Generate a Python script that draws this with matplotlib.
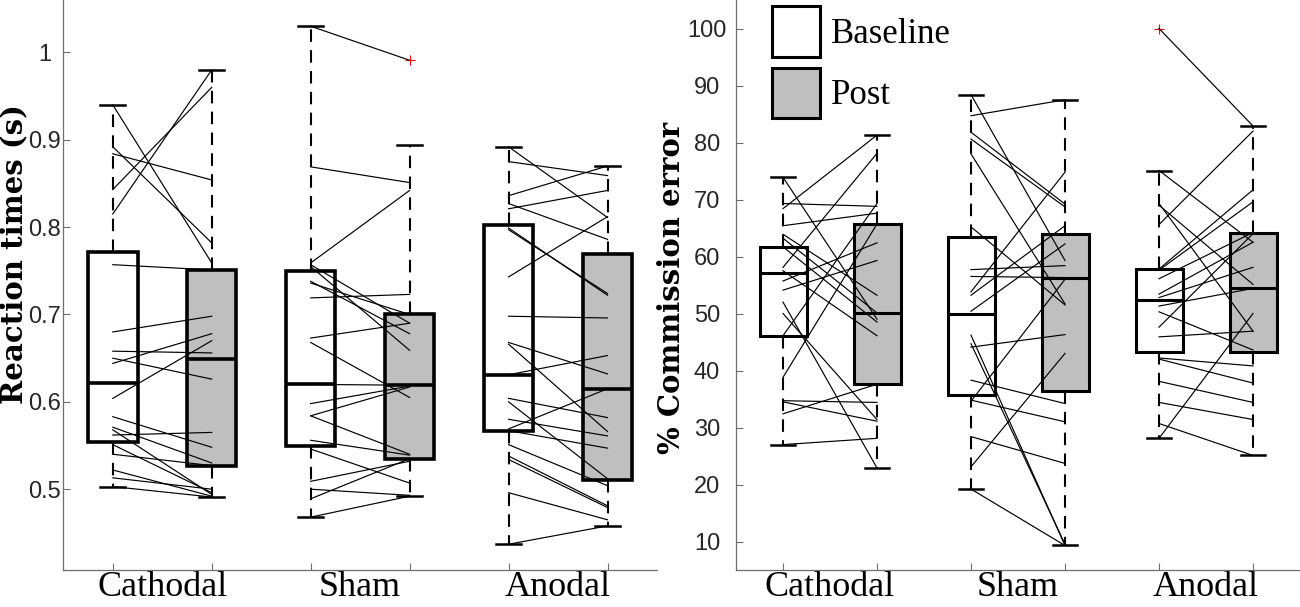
import numpy as np
import matplotlib
matplotlib.use('Agg')
import matplotlib.pyplot as plt
from matplotlib.patches import Patch

groups = ['Cathodal', 'Sham', 'Anodal']

# reaction times (s), one value per subject, baseline / post
rt_cath_base = [0.940, 0.892, 0.884, 0.843, 0.815, 0.757, 0.680, 0.658, 0.650, 0.644,
                0.604, 0.583, 0.571, 0.568, 0.562, 0.551, 0.540, 0.522, 0.513, 0.503]
rt_cath_post = [0.759, 0.782, 0.854, 0.960, 0.980, 0.751, 0.698, 0.656, 0.626, 0.678,
                0.670, 0.548, 0.530, 0.494, 0.565, 0.496, 0.527, 0.492, 0.500, 0.491]
rt_sham_base = [1.030, 0.869, 0.759, 0.757, 0.755, 0.738, 0.736, 0.719, 0.673, 0.668,
                0.620, 0.598, 0.584, 0.584, 0.556, 0.546, 0.509, 0.500, 0.489, 0.468]
rt_sham_post = [0.991, 0.851, 0.842, 0.690, 0.659, 0.678, 0.700, 0.723, 0.690, 0.605,
                0.619, 0.618, 0.617, 0.540, 0.539, 0.507, 0.532, 0.493, 0.535, 0.492]
rt_anod_base = [0.892, 0.875, 0.836, 0.827, 0.821, 0.799, 0.797, 0.743, 0.698, 0.668, 0.666,
                0.631, 0.604, 0.600, 0.580, 0.569, 0.567, 0.551, 0.538, 0.534, 0.496, 0.437]
rt_anod_post = [0.811, 0.859, 0.870, 0.786, 0.842, 0.722, 0.724, 0.812, 0.696, 0.632, 0.566,
                0.653, 0.582, 0.512, 0.561, 0.615, 0.547, 0.504, 0.481, 0.479, 0.465, 0.458]

# box summaries, order: cath base, cath post, sham base, sham post, anod base, anod post
rt_whislo = [0.503, 0.491, 0.468, 0.492, 0.437, 0.458]
rt_q1 = [0.554, 0.526, 0.550, 0.534, 0.567, 0.511]
rt_med = [0.622, 0.649, 0.620, 0.619, 0.631, 0.615]
rt_q3 = [0.771, 0.751, 0.750, 0.700, 0.802, 0.769]
rt_whishi = [0.940, 0.980, 1.030, 0.894, 0.892, 0.870]
rt_fliers = [[], [], [], [0.991], [], []]

# % commission error
ce_cath_base = [73.9, 69.3, 68.4, 65.4, 63.9, 63.2, 61.7, 58.1, 57.5, 55.7,
                54.1, 52.0, 50.0, 46.1, 38.8, 34.7, 34.5, 32.4, 27.0]
ce_cath_post = [49.0, 68.8, 81.3, 67.6, 53.2, 50.1, 48.5, 78.1, 46.1, 62.4,
                59.3, 22.9, 31.4, 69.3, 65.7, 34.4, 31.1, 37.6, 28.1]
ce_sham_base = [88.4, 84.7, 81.8, 80.6, 78.0, 65.2, 57.7, 56.5, 53.8, 53.2,
                50.4, 46.2, 44.7, 44.1, 38.3, 34.8, 34.6, 28.4, 23.1, 19.2]
ce_sham_post = [59.3, 87.5, 69.2, 68.7, 51.7, 51.5, 58.4, 56.3, 74.8, 65.4,
                62.2, 9.3, 9.5, 46.3, 34.2, 31.0, 56.0, 23.7, 43.0, 9.3]
ce_anod_base = [100.0, 75.1, 69.3, 69.0, 65.6, 57.8, 57.6, 56.1, 53.4, 52.8,
                51.3, 50.3, 47.6, 45.9, 42.2, 42.0, 38.1, 34.4, 30.7, 28.1]
ce_anod_post = [82.9, 62.5, 46.9, 55.1, 82.0, 71.7, 69.6, 64.2, 62.5, 58.1,
                54.4, 43.6, 64.0, 46.9, 40.8, 37.8, 34.4, 31.4, 25.1, 50.0]

ce_whislo = [27.0, 22.9, 19.2, 9.3, 28.1, 25.1]
ce_q1 = [46.1, 37.6, 35.7, 36.4, 43.3, 43.2]
ce_med = [57.1, 50.1, 49.9, 56.3, 52.3, 54.4]
ce_q3 = [61.7, 65.7, 63.4, 64.0, 57.8, 64.2]
ce_whishi = [73.9, 81.3, 88.4, 87.5, 75.0, 82.9]
ce_fliers = [[], [], [], [], [100.0], []]

GRAY = '#bfbfbf'
AXC = '#6e6e6e'
TICKFONT = 'Liberation Sans'


def panel(ax, pairs, whislo, q1, med, q3, whishi, fliers, box_lw):
    stats = [dict(whislo=whislo[i], q1=q1[i], med=med[i], q3=q3[i],
                  whishi=whishi[i], fliers=fliers[i]) for i in range(6)]
    pos = np.arange(1, 7)
    bp = ax.bxp(stats, positions=pos, widths=0.5, capwidths=0.25,
                patch_artist=True, showfliers=True,
                boxprops=dict(linewidth=box_lw, edgecolor='black'),
                medianprops=dict(color='black', linewidth=box_lw),
                whiskerprops=dict(color='black', linewidth=1.5, linestyle=(0, (6, 4))),
                capprops=dict(color='black', linewidth=1.8),
                flierprops=dict(marker='+', markeredgecolor='red', markersize=7,
                                markeredgewidth=0.8))
    for i, b in enumerate(bp['boxes']):
        b.set_facecolor('white' if i % 2 == 0 else GRAY)
    for g, (base, post) in enumerate(pairs):
        x0 = 2 * g + 1
        ax.plot([x0, x0 + 1], np.vstack([base, post]), color='black', lw=0.85, zorder=3)

    ax.set_xlim(0.5, 6.5)
    for s in ['top', 'right']:
        ax.spines[s].set_visible(False)
    for s in ['left', 'bottom']:
        ax.spines[s].set_color(AXC)
        ax.spines[s].set_linewidth(0.9)
    ax.set_xticks(pos)
    ax.set_xticklabels([])
    ax.set_xticks([1.5, 3.5, 5.5], minor=True)
    ax.set_xticklabels(groups, minor=True, fontfamily='Liberation Serif', fontsize=26)
    ax.tick_params(axis='x', which='minor', length=0, pad=1)
    ax.tick_params(which='major', direction='in', length=5, color=AXC)


fig = plt.figure(figsize=(13, 6.07), dpi=100)
ax1 = fig.add_axes([63.3 / 1300, 37 / 607, 593.7 / 1300, 570 / 607])
ax2 = fig.add_axes([736 / 1300, 37 / 607, 564 / 1300, 570 / 607])

panel(ax1, [(rt_cath_base, rt_cath_post), (rt_sham_base, rt_sham_post),
            (rt_anod_base, rt_anod_post)],
      rt_whislo, rt_q1, rt_med, rt_q3, rt_whishi, rt_fliers, 2.6)
ax1.set_ylim(0.4075, 1.06)
ax1.set_yticks([0.5, 0.6, 0.7, 0.8, 0.9, 1.0])
ax1.set_yticklabels(['0.5', '0.6', '0.7', '0.8', '0.9', '1'],
                    fontfamily=TICKFONT, fontsize=17, color='#262626', ha='center')
ax1.tick_params(axis='y', pad=13.2)
ax1.set_ylabel('Reaction times (s)', fontfamily='DejaVu Serif', fontweight='bold',
               fontsize=21)
ax1.yaxis.set_label_coords(-0.0595, 0.554)

panel(ax2, [(ce_cath_base, ce_cath_post), (ce_sham_base, ce_sham_post),
            (ce_anod_base, ce_anod_post)],
      ce_whislo, ce_q1, ce_med, ce_q3, ce_whishi, ce_fliers, 2.2)
ax2.set_ylim(5, 105)
ax2.set_yticks(np.arange(10, 101, 10))
ax2.set_yticklabels([str(v) for v in range(10, 101, 10)],
                    fontfamily=TICKFONT, fontsize=17, color='#262626', ha='center')
ax2.tick_params(axis='y', pad=20.9)
ax2.set_ylabel('% Commission error', fontfamily='DejaVu Serif', fontweight='bold',
               fontsize=21)
ax2.yaxis.set_label_coords(-0.0885, 0.495)

handles = [Patch(facecolor='white', edgecolor='black', lw=2.2, label='Baseline'),
           Patch(facecolor=GRAY, edgecolor='black', lw=2.2, label='Post')]
ax2.legend(handles=handles, loc='upper left', bbox_to_anchor=(0.063, 0.989),
           frameon=False, prop=dict(family='Liberation Serif', size=25),
           handlelength=1.4, handleheight=1.85, handletextpad=0.3,
           labelspacing=0.32, borderpad=0, borderaxespad=0)

fig.savefig('out.png', dpi=100)
